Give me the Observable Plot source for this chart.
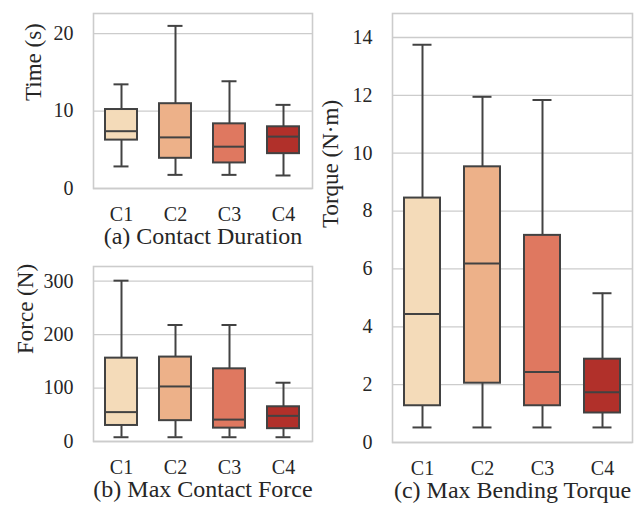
<!DOCTYPE html>
<html>
<head>
<meta charset="utf-8">
<script src="https://cdn.jsdelivr.net/npm/d3@7"></script>
<script src="https://cdn.jsdelivr.net/npm/@observablehq/plot@0.6"></script>
<style>
  html, body { margin: 0; padding: 0; background: #fff; }
  #root { position: relative; width: 634px; height: 510px; overflow: hidden; }
  #root > svg { position: absolute; overflow: visible; }
</style>
</head>
<body>
<div id="root"></div>
<script>
// ---- data ----
const categories = ["C1", "C2", "C3", "C4"];
const colors = ["#f4dbb9", "#edb189", "#df7860", "#b1302a"];

// (a) Contact Duration, seconds
const durLow    = [2.85, 1.76, 1.76, 1.68];
const durQ1     = [6.25, 3.9, 3.3, 4.5];
const durMedian = [7.4, 6.6, 5.4, 6.7];
const durQ3     = [10.2, 10.95, 8.35, 7.97];
const durHigh   = [13.45, 21.0, 13.85, 10.8];
const durTicks  = [0, 10, 20];

// (b) Max Contact Force, N
const forceLow    = [8, 8, 8, 8];
const forceQ1     = [30, 39, 25, 24];
const forceMedian = [55, 103, 41, 48];
const forceQ3     = [156, 158, 136, 65];
const forceHigh   = [301, 218, 218, 110];
const forceTicks  = [0, 100, 200, 300];

// (c) Max Bending Torque, N·m
const torqueLow    = [0.52, 0.52, 0.52, 0.52];
const torqueQ1     = [1.27, 2.05, 1.27, 1.02];
const torqueMedian = [4.44, 6.19, 2.44, 1.74];
const torqueQ3     = [8.45, 9.53, 7.16, 2.88];
const torqueHigh   = [13.75, 11.95, 11.84, 5.16];
const torqueTicks  = [0, 2, 4, 6, 8, 10, 12, 14];

const FONT = "'Liberation Serif', 'Times New Roman', serif";
const TEXT = "#262626";
const GRID = "#cccccc";
const LINE = "#424242";

function rows(low, q1, med, q3, high) {
  return categories.map((c, i) => ({cat: c, low: low[i], q1: q1[i], med: med[i], q3: q3[i], high: high[i], color: colors[i]}));
}

function panel({data, ticks, yMax, yLabel, title, width, height, margins, ylabelDx, capInset, left, top}) {
  const svg = Plot.plot({
    width, height,
    marginLeft: margins[0], marginRight: margins[1], marginTop: margins[2], marginBottom: margins[3],
    style: {fontFamily: FONT, fontSize: "20px", color: TEXT, background: "transparent"},
    x: {type: "band", domain: categories, paddingInner: 0.4, paddingOuter: 0.2},
    y: {domain: [0, yMax]},
    marks: [
      Plot.gridY(ticks, {stroke: GRID, strokeOpacity: 1, strokeWidth: 1.3}),
      Plot.ruleX(data, {x: "cat", y1: "low", y2: "q1", stroke: LINE, strokeWidth: 2}),
      Plot.ruleX(data, {x: "cat", y1: "q3", y2: "high", stroke: LINE, strokeWidth: 2}),
      Plot.barY(data, {x: "cat", y1: "q1", y2: "q3", fill: "color", stroke: LINE, strokeWidth: 2}),
      Plot.tickY(data, {x: "cat", y: "med", stroke: LINE, strokeWidth: 2}),
      Plot.tickY(data, {x: "cat", y: "low", stroke: LINE, strokeWidth: 2, inset: capInset}),
      Plot.tickY(data, {x: "cat", y: "high", stroke: LINE, strokeWidth: 2, inset: capInset}),
      Plot.frame({stroke: GRID, strokeWidth: 1.6}),
      Plot.axisY(ticks, {tickSize: 0, tickPadding: 20, label: null, fontSize: 20, fill: TEXT}),
      Plot.axisX({tickSize: 0, tickPadding: 18, label: null, fontSize: 20, fill: TEXT}),
      Plot.text([yLabel], {frameAnchor: "left", rotate: -90, dx: ylabelDx, fontSize: 23, fill: TEXT}),
      Plot.text([title], {frameAnchor: "bottom", dy: 55, fontSize: 24, fill: TEXT})
    ]
  });
  svg.style.left = left + "px";
  svg.style.top = top + "px";
  return svg;
}

const root = document.getElementById("root");
root.appendChild(panel({
  data: rows(durLow, durQ1, durMedian, durQ3, durHigh), ticks: durTicks, yMax: 22.6,
  yLabel: "Time (s)", title: "(a) Contact Duration",
  width: 320, height: 255, margins: [93, 8, 13, 67], ylabelDx: -60, capInset: 8.5, left: 0, top: 0
}));
root.appendChild(panel({
  data: rows(forceLow, forceQ1, forceMedian, forceQ3, forceHigh), ticks: forceTicks, yMax: 327.5,
  yLabel: "Force (N)", title: "(b) Max Contact Force",
  width: 320, height: 255, margins: [93, 8, 11, 69], ylabelDx: -68, capInset: 8.5, left: 0, top: 255
}));
root.appendChild(panel({
  data: rows(torqueLow, torqueQ1, torqueMedian, torqueQ3, torqueHigh), ticks: torqueTicks, yMax: 14.83,
  yLabel: "Torque (N·m)", title: "(c) Max Bending Torque",
  width: 314, height: 510, margins: [72, 2, 13, 68], ylabelDx: -62, capInset: 8.5, left: 320, top: 0
}));
</script>
</body>
</html>
